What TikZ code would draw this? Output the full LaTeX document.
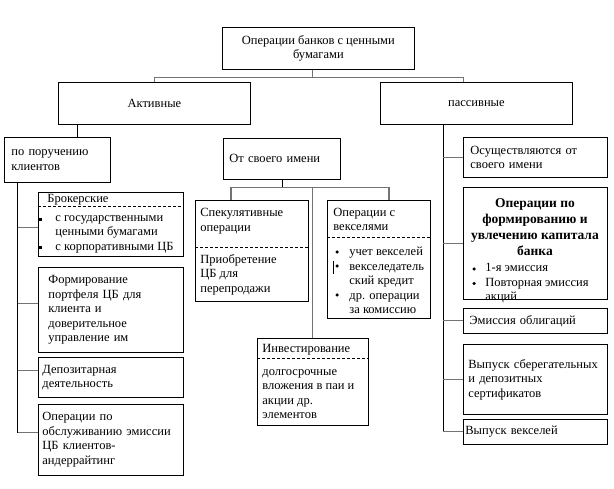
\documentclass[tikz,border=0pt]{standalone}
\usepackage{fontspec}
\setmainfont{Liberation Serif}

\begin{document}
\begin{tikzpicture}[x=1pt, y=-1pt, line width=0.8pt,
	font=\fontsize{12.5}{14.5}\selectfont,
	box/.style={draw, rectangle, anchor=north west, inner sep=0pt},
	cbox/.style={box, align=center},
	lbox/.style={box, align=left, inner xsep=5pt},
	txt/.style={anchor=west, align=left, inner sep=0pt},
	conn/.style={draw=black!55, line width=1.1pt},
	divider/.style={dashed, dash pattern=on 3pt off 2pt},
	sqbullet/.style={fill, rectangle, minimum size=3pt, inner sep=0pt},
	dotbullet/.style={fill, circle, minimum size=3.5pt, inner sep=0pt}]
	
	\useasboundingbox (0,0) rectangle (614,489);
	
	% 1. Верхний уровень
	\node[cbox, minimum width=192, minimum height=42] (ops) at (222,27) {Операции банков с ценными\\бумагами};
	\node[cbox, minimum width=192, minimum height=42] (act) at (58,82) {Активные};
	\node[cbox, minimum width=192, minimum height=42] (pas) at (380,82) {пассивные};
	
	\draw[conn] ([xshift=-6]ops.south) -- ++(0,8) coordinate (tj);
	\draw[conn] (act.north) |- (tj) -| ([xshift=-13]pas.north);
	
	% 2. Активные: по поручению клиентов
	\node[lbox, inner xsep=7pt, text width=92, minimum height=45] (porr) at (4,137) {по поручению\\клиентов};
	\coordinate (a1) at ([xshift=19]act.south west);
	\draw (a1) -- (a1 |- porr.north);
	
	\node[box, minimum width=145, minimum height=64] (brok) at (38,192) {};
	\draw[divider] ([yshift=-14]brok.north west) -- ([yshift=-14]brok.north east);
	\node[txt] (brok-h) at (47,200) {Брокерские};
	\node[txt] (brok-b) at (55,234) {с государственными\\ценными бумагами\\с корпоративными ЦБ};
	\node[sqbullet] (bq1) at (40,220) {};
	\node[sqbullet] (bq2) at (40,248) {};
	
	\node[lbox, inner xsep=10pt, text width=125, minimum height=85] (form) at (38,267) {Формирование\\портфеля ЦБ для\\клиента и\\доверительное\\управление им};
	\node[lbox, inner xsep=4pt, text width=137, minimum height=40] (depo) at (38,357) {Депозитарная\\деятельность};
	\node[lbox, inner xsep=4pt, text width=137, minimum height=71] (obsl) at (38,404) {Операции по\\обслуживанию эмиссии\\ЦБ клиентов-\\андеррайтинг};
	
	\coordinate (lt) at ([xshift=13]porr.south west);
	\foreach \b/\s in {brok/-3, form/6, depo/7, obsl/7} {
		\coordinate (\b-in) at ([yshift=\s]\b.west);
		\draw[conn] (\b-in -| lt) -- (\b-in);
	}
	\draw (lt) -- (lt |- obsl-in);
	
	% 3. Активные: от своего имени
	\node[lbox, inner xsep=6pt, text width=105, minimum height=41] (self) at (223,138) {От своего имени};
	
	\node[box, minimum width=113, minimum height=101] (spek) at (195,200) {};
	\draw[divider] ([yshift=-47]spek.north west) -- ([yshift=-47]spek.north east);
	\node[txt] (spek-h) at (200,221) {Спекулятивные\\операции};
	\node[txt] (spek-b) at (200,274.5) {Приобретение\\ЦБ для\\перепродажи};
	
	\node[box, minimum width=103, minimum height=118] (veks) at (327,200) {};
	\draw[divider] ([yshift=-37]veks.north west) -- ([yshift=-37]veks.north east);
	\node[txt] (veks-h) at (333,219.5) {Операции с\\векселями};
	\node[txt] (veks-b) at (349,280.5) {учет векселей\\векселедатель\\ский кредит\\др. операции\\за комиссию};
	\foreach \y [count=\i] in {252,266,295}
		\node[dotbullet] (vd\i) at (337,\y) {};
	\draw (333,261) -- (333,274);
	
	\node[box, minimum width=111, minimum height=87] (inv) at (257,338) {};
	\draw[divider] ([yshift=-20]inv.north west) -- ([yshift=-20]inv.north east);
	\node[txt] (inv-h) at (262,350) {Инвестирование};
	\node[txt] (inv-b) at (262,394) {долгосрочные\\вложения в паи и\\акции др.\\элементов};
	
	\draw (self.south) -- ++(0,8) coordinate (mj);
	\draw[conn] ([xshift=36]spek.north west) |- (mj) -| ([xshift=62]veks.north west);
	\draw[conn] (mj -| inv.north) -- (inv.north);
	
	% 4. Пассивные
	\node[lbox, inner xsep=7pt, text width=130, minimum height=40] (osush) at (463,137) {Осуществляются от\\своего имени};
	
	\node[box, minimum width=144, minimum height=112] (kap) at (463,187) {};
	\node[align=center, inner sep=0pt, font=\bfseries\fontsize{13.5}{16}\selectfont] (kap-h) at (535,227) {Операции по\\формированию и\\увлечению капитала\\банка};
	\node[txt] (kap-b) at (485,283.5) {1-я эмиссия\\Повторная эмиссия\\акций};
	\node[dotbullet] (kd1) at (474,269) {};
	\node[dotbullet] (kd2) at (474,283.5) {};
	
	\node[lbox, inner xsep=6pt, text width=132, minimum height=25] (obl) at (463,308) {Эмиссия облигаций};
	\node[lbox, inner xsep=5pt, text width=134, minimum height=70] (sert) at (463,344) {Выпуск сберегательных\\и депозитных\\сертификатов};
	\node[lbox, inner xsep=2pt, text width=140, minimum height=25] (vyp) at (463,419) {Выпуск векселей};
	
	\coordinate (rt) at ([xshift=63]pas.south west);
	\draw (rt) -- (rt |- vyp.west);
	\foreach \b in {osush, kap, obl, sert, vyp}
		\draw[conn] (rt |- \b.west) -- (\b.west);
	
\end{tikzpicture}
\end{document}
